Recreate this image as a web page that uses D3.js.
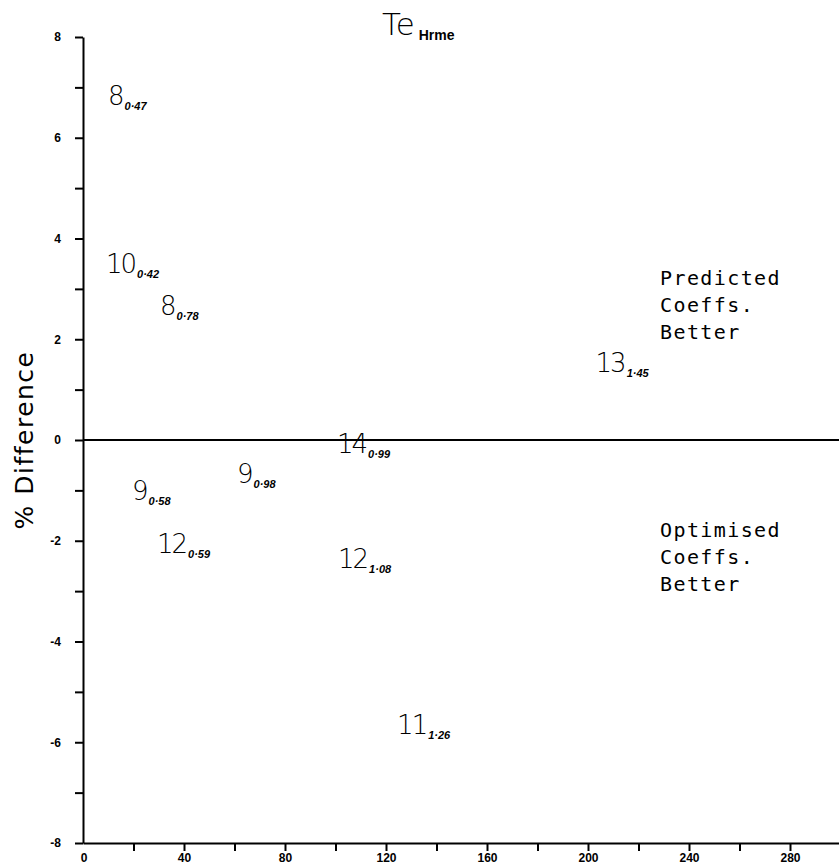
<!DOCTYPE html>
<html>
<head>
<meta charset="utf-8">
<script src="https://cdn.jsdelivr.net/npm/d3@7"></script>
<style>
    body { margin: 0; background: #fff; }
    svg { display: block; }
    .axis path, .axis line { stroke: #000; stroke-width: 2; }
    .axis text { font-family: "Liberation Sans", Arial, sans-serif; font-weight: bold; font-size: 12px; fill: #000; }
    .note { font-family: "DejaVu Sans Mono", monospace; font-size: 20px; letter-spacing: 1.4px; fill: #000; }
    .pt-main { font-family: "DejaVu Sans", sans-serif; font-weight: 200; font-size: 26px; fill: #000; }
    .pt-sub { font-family: "Liberation Sans", Arial, sans-serif; font-weight: bold; font-style: italic; font-size: 11px; }
</style>
</head>
<body>
<div id="chart"></div>
<script>
// values (anchor = left / baseline of the big number)
const counts = [8, 10, 8, 13, 14, 9, 9, 12, 12, 11];
const subs = ["0·47", "0·42", "0·78", "1·45", "0·99", "0·98", "0·58", "0·59", "1·08", "1·26"];
const xVals = [9.9, 9.1, 30.5, 203, 100.6, 61, 19.4, 29.3, 101, 124.4];
const yVals = [6.65, 3.31, 2.49, 1.35, -0.25, -0.85, -1.19, -2.25, -2.55, -5.83];

const xTicks = d3.range(20, 281, 20);
const xLabels = [0, 40, 80, 120, 160, 200, 240, 280];
const yTicks = d3.range(-8, 9, 1);

const notesTop = ["Predicted", "Coeffs.", "Better"];
const notesBottom = ["Optimised", "Coeffs.", "Better"];

const data = counts.map((n, i) => ({ n, sub: subs[i], x: xVals[i], y: yVals[i] }));

const width = 839;
const height = 868;

const svg = d3.select("#chart")
    .append("svg")
    .attr("width", width)
    .attr("height", height);

const xScale = d3.scaleLinear().domain([0, 300]).range([83, 840.5]);
const yScale = d3.scaleLinear().domain([-8, 8]).range([843, 37]);

// y axis, tick every 1, label every 2
const leftAxis = d3.axisLeft(yScale)
    .tickValues(yTicks)
    .tickSize(8)
    .tickSizeOuter(0)
    .tickPadding(14)
    .tickFormat(d => d % 2 === 0 ? (d < 0 ? "-" + Math.abs(d) : d) : "");

svg.append("g")
    .attr("class", "axis")
    .attr("transform", `translate(${xScale(0)}, 0)`)
    .call(leftAxis);

// x axis
const bottomAxis = d3.axisBottom(xScale)
    .tickValues(xTicks)
    .tickSize(8)
    .tickSizeOuter(0)
    .tickFormat(d => xLabels.includes(d) ? d : "");

const gx = svg.append("g")
    .attr("class", "axis")
    .attr("transform", `translate(0, ${yScale(-8)})`)
    .call(bottomAxis);

gx.selectAll(".tick text").attr("y", 10);

gx.append("text")
    .attr("x", xScale(0) + 1)
    .attr("y", 10)
    .attr("dy", "0.71em")
    .attr("text-anchor", "middle")
    .text(xLabels[0]);

// zero line
svg.append("line")
    .attr("x1", xScale(0))
    .attr("x2", xScale(300))
    .attr("y1", yScale(0))
    .attr("y2", yScale(0))
    .attr("stroke", "#000")
    .attr("stroke-width", 1.8);

// title
const title = svg.append("text")
    .attr("x", 382)
    .attr("y", 35)
    .attr("font-family", "DejaVu Sans, sans-serif")
    .attr("font-weight", 200)
    .attr("font-size", 31);
title.append("tspan").text("Te");
title.append("tspan")
    .attr("dy", 5)
    .attr("dx", 4)
    .attr("font-family", "Liberation Sans, Arial, sans-serif")
    .attr("font-weight", "bold")
    .attr("font-size", 14)
    .text("Hrme");

// y label
svg.append("text")
    .attr("transform", `translate(33, 440) rotate(-90)`)
    .attr("text-anchor", "middle")
    .attr("font-family", "DejaVu Sans, sans-serif")
    .attr("font-size", 25)
    .attr("letter-spacing", 1.5)
    .text("% Difference");

// quadrant notes
svg.append("g").selectAll("text")
    .data(notesTop)
    .join("text")
    .attr("class", "note")
    .attr("x", 660)
    .attr("y", (d, i) => 285 + i * 27)
    .text(d => d);

svg.append("g").selectAll("text")
    .data(notesBottom)
    .join("text")
    .attr("class", "note")
    .attr("x", 660)
    .attr("y", (d, i) => 537 + i * 27)
    .text(d => d);

// point labels
const labels = svg.append("g")
    .selectAll("text")
    .data(data)
    .join("text")
    .attr("x", d => xScale(d.x))
    .attr("y", d => yScale(d.y));

labels.append("tspan")
    .attr("class", "pt-main")
    .attr("letter-spacing", -2)
    .text(d => d.n);

labels.append("tspan")
    .attr("class", "pt-sub")
    .attr("dx", 2)
    .attr("dy", 5)
    .text(d => d.sub);
</script>
</body>
</html>
